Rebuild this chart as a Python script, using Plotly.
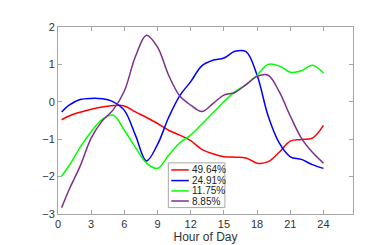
import plotly.graph_objects as go

hours = [0.33, 1, 2, 3, 4, 5, 6, 7, 8, 9, 10, 11, 12, 13, 14, 15, 16, 17, 18, 19, 20, 21, 22, 23, 24]

red = [-0.48, -0.38, -0.28, -0.2, -0.14, -0.1, -0.11, -0.27, -0.42, -0.58, -0.76, -0.89, -1.04, -1.27, -1.39, -1.47, -1.48, -1.5, -1.64, -1.6, -1.35, -1.05, -1.01, -0.97, -0.63]
blue = [-0.27, -0.09, 0.06, 0.09, 0.08, 0.0, -0.23, -0.89, -1.58, -1.14, -0.42, 0.16, 0.54, 0.96, 1.11, 1.17, 1.35, 1.34, 0.71, -0.38, -1.1, -1.47, -1.54, -1.68, -1.78]
green = [-1.99, -1.71, -1.22, -0.8, -0.47, -0.36, -0.76, -1.22, -1.64, -1.78, -1.43, -1.1, -0.89, -0.6, -0.3, 0.0, 0.27, 0.46, 0.71, 1.0, 0.96, 0.79, 0.83, 0.98, 0.77]
purple = [-2.83, -2.35, -1.72, -0.97, -0.51, -0.21, 0.29, 1.21, 1.78, 1.46, 0.71, 0.16, -0.09, -0.26, -0.05, 0.18, 0.25, 0.46, 0.68, 0.71, 0.27, -0.38, -0.97, -1.35, -1.64]

names = ["49.64%", "24.91%", "11.75%", "8.85%"]
colors = ["#ff0000", "#0000ff", "#00ff00", "#7e2f8e"]
series = [red, blue, green, purple]

xticks = [0, 3, 6, 9, 12, 15, 18, 21, 24]
yticks = [-3, -2, -1, 0, 1, 2]

W, H = 382, 245
ML, MR, MT, MB = 49.5, 37, 18.7, 27.7
PW, PH = W - ML - MR, H - MT - MB

def px(x):
    return (x - ML) / PW

def py(y):
    return (H - MB - y) / PH

fig = go.Figure()
for nm, c, s in zip(names, colors, series):
    fig.add_trace(go.Scatter(x=hours, y=s, mode="lines", name=nm, showlegend=False,
                             line=dict(color=c, width=1.5, shape="spline", smoothing=1.0)))

# custom legend (box, line samples, labels)
font = dict(family="Liberation Sans, Arial", size=10, color="#222222")
shapes = [dict(type="rect", xref="paper", yref="paper",
               x0=px(160), x1=px(216.7), y0=py(210.5), y1=py(163)),
          ]
shapes[0].update(line=dict(color="#a6a6a6", width=1), fillcolor="white", layer="above")
annotations = []
rows = [170.5, 181.8, 192.8, 203.5]
for nm, c, ry in zip(names, colors, rows):
    shapes.append(dict(type="line", xref="paper", yref="paper",
                       x0=px(163), x1=px(180.5), y0=py(ry), y1=py(ry),
                       line=dict(color=c, width=1.5), layer="above"))
    annotations.append(dict(xref="paper", yref="paper", x=px(182.5), y=py(ry),
                            xanchor="left", yanchor="middle", text=nm, showarrow=False,
                            borderpad=0, font=font))

axis_common = dict(showgrid=False, zeroline=False, showline=True, linecolor="#a6a6a6",
                   linewidth=1, mirror="ticks", ticks="inside", ticklen=4,
                   tickcolor="#a6a6a6", tickfont=dict(family="Liberation Sans, Arial", size=11, color="#333333"))

fig.update_layout(
    width=W, height=H,
    margin=dict(l=ML, r=MR, t=MT, b=MB),
    paper_bgcolor="white", plot_bgcolor="white",
    showlegend=False,
    shapes=shapes, annotations=annotations,
    xaxis=dict(range=[0, 26.67], tickvals=xticks,
               title=dict(text="Hour of Day", standoff=2,
                          font=dict(family="Liberation Sans, Arial", size=12, color="#333333")),
               **axis_common),
    yaxis=dict(range=[-3, 2], tickvals=yticks, **axis_common),
)

fig.write_html("out.html")
